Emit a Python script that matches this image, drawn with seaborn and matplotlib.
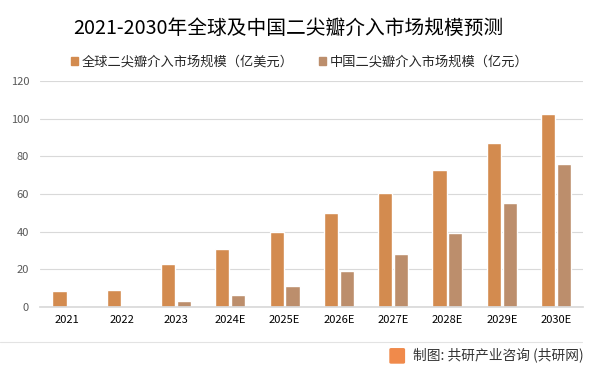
import matplotlib
matplotlib.use("Agg")
import matplotlib.pyplot as plt
import matplotlib.patches as mpatches
import seaborn as sns
import pandas as pd

years = ['2021', '2022', '2023', '2024E', '2025E', '2026E', '2027E', '2028E', '2029E', '2030E']
global_size = [8.5, 9.0, 22.8, 30.8, 39.8, 49.9, 60.5, 72.8, 87.1, 102.5]
china_size = [0.7, 0.6, 3.3, 6.4, 11.3, 19.3, 28.3, 39.4, 55.3, 76.0]
series_names = ['全球二尖瓣介入市场规模（亿美元）', '中国二尖瓣介入市场规模（亿元）']
colors = ['#D38B4F', '#BC8E6C']

df = pd.DataFrame({
    'year': years * 2,
    'value': global_size + china_size,
    'series': [series_names[0]] * len(years) + [series_names[1]] * len(years),
})

sns.set_theme(style='white')
plt.rcParams['font.family'] = ['Noto Sans CJK SC', 'DejaVu Sans']

fig = plt.figure(figsize=(6, 3.75), dpi=100)
ax = fig.add_axes([0.067, 0.181, 0.905, 0.603])

sns.barplot(data=df, x='year', y='value', hue='series', palette=colors,
            width=0.58, gap=0.1, ax=ax, legend=False, saturation=1)

ax.set_ylim(0, 120)
ax.set_yticks(range(0, 121, 20))
ax.set_xlim(-0.5, len(years) - 0.5)
ax.yaxis.grid(True, color='#D9D9D9', linewidth=0.8)
ax.set_axisbelow(True)
for s in ['top', 'right', 'left']:
    ax.spines[s].set_visible(False)
ax.spines['bottom'].set_color('#D9D9D9')
ax.tick_params(axis='y', labelsize=8, colors='#595959', length=0, pad=8)
ax.tick_params(axis='x', labelsize=8, colors='black', length=0, pad=6)
ax.set_xlabel('')
ax.set_ylabel('')

fig.text(0.122, 0.925, '2021-2030年全球及中国二尖瓣介入市场规模预测', fontsize=14.2,
         color='black', va='center', ha='left')

handles = [mpatches.Patch(color=c, label=n) for c, n in zip(colors, series_names)]
fig.legend(handles=handles, loc='center left', bbox_to_anchor=(0.098, 0.835), ncol=2,
           frameon=False, fontsize=9.5, handlelength=0.55, handleheight=0.55,
           handletextpad=0.3, columnspacing=1.9, labelcolor='#262626')

fig.add_artist(plt.Line2D([0.0, 0.97], [0.088, 0.088], color='#E3E3E3', linewidth=0.8))
fig.add_artist(mpatches.FancyBboxPatch((0.652, 0.034), 0.02, 0.034,
                                       boxstyle='round,pad=0.002', color='#F08A4B'))
fig.text(0.688, 0.053, '制图: 共研产业咨询 (共研网)', fontsize=9.9, color='#333333',
         va='center', ha='left')

fig.savefig('out.png', dpi=100)
